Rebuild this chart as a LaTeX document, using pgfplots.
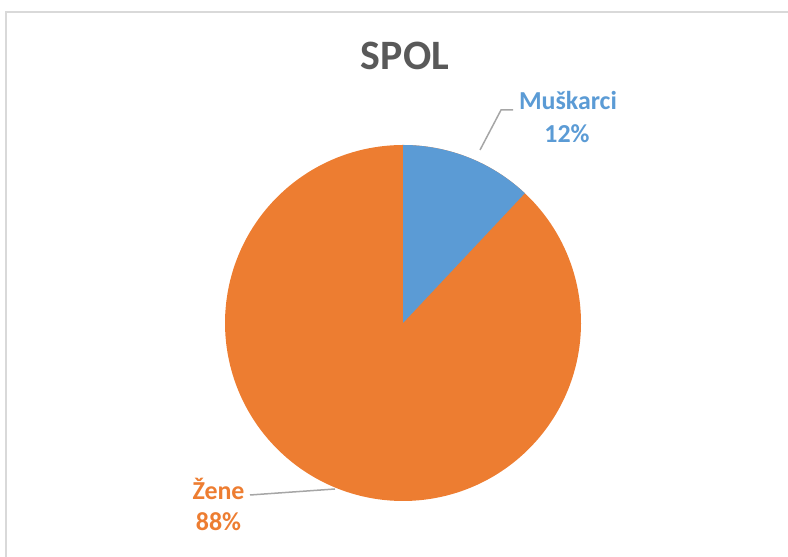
\documentclass[border=0pt]{standalone}
\usepackage{pgfplots}
\pgfplotsset{compat=1.18}
\usepackage{fontspec}
\setmainfont{Carlito}
\definecolor{mblue}{HTML}{5B9BD5}
\definecolor{morange}{HTML}{ED7D31}
\definecolor{tgray}{HTML}{595959}
\definecolor{lgray}{HTML}{A6A6A6}
\definecolor{fgray}{HTML}{D9D9D9}
\begin{document}
\begin{tikzpicture}[x=1bp,y=1bp]
\begin{axis}[
  at={(0,0)}, anchor=south west,
  scale only axis, width=788bp, height=557bp,
  xmin=0, xmax=788, ymin=0, ymax=557,
  hide axis, clip=true,
]
% frame
\draw[fgray, line width=1.5bp] (6,-10) -- (6,545) -- (800,545);
% pie: Muskarci 12, Zene 88 ; centre (403,234), radius 178
\addplot[fill=morange, draw=none, domain={90-3.6*12-360}:{90-3.6*12}, samples=200]
  ({403+178*cos(x)},{234+178*sin(x)}) -- (403,234) -- cycle;
\addplot[fill=mblue, draw=none, domain={90-3.6*12}:90, samples=60]
  ({403+178*cos(x)},{234+178*sin(x)}) -- (403,234) -- cycle;
% leader lines
\draw[lgray, line width=1.5bp] (480,407) -- (501,447) -- (513,447);
\draw[lgray, line width=1.5bp] (250,62) -- (335,68);
% title and labels
\node[text=tgray, font=\fontsize{42}{46}\selectfont\bfseries] at (405,501) {SPOL};
\node[text=mblue, font=\fontsize{26}{30}\selectfont\bfseries] at (568,456) {Muškarci};
\node[text=mblue, font=\fontsize{26}{30}\selectfont\bfseries] at (567,423) {12\%};
\node[text=morange, font=\fontsize{26}{30}\selectfont\bfseries] at (218.5,68) {Žene};
\node[text=morange, font=\fontsize{26}{30}\selectfont\bfseries] at (218.5,35) {88\%};
\end{axis}
\pgfresetboundingbox
\path (0,0) rectangle (788,557);
\end{tikzpicture}
\end{document}
